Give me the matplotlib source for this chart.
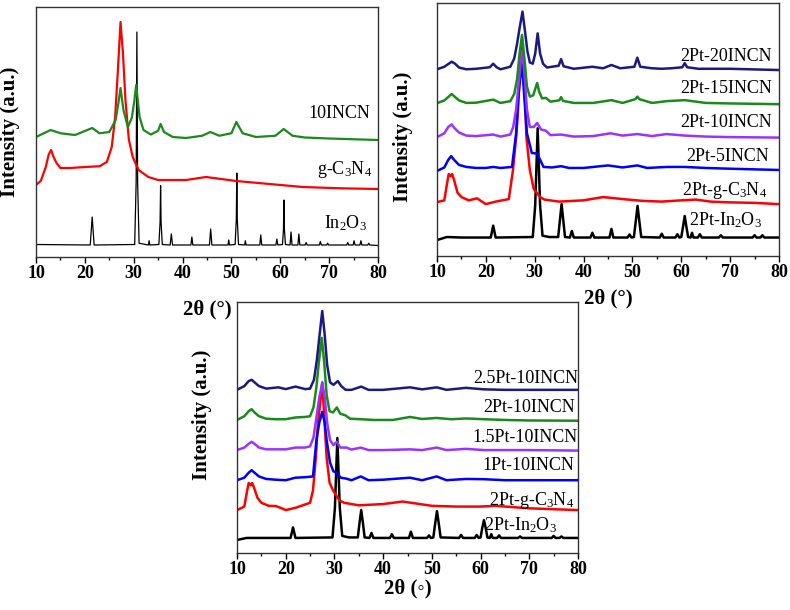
import matplotlib
matplotlib.use('Agg')
from matplotlib import pyplot as plt
from matplotlib.ticker import MultipleLocator

plt.rcParams['font.family'] = ['Liberation Serif', 'DejaVu Serif']
plt.rcParams['mathtext.fontset'] = 'custom'
plt.rcParams['mathtext.rm'] = 'Liberation Serif'
plt.rcParams['mathtext.it'] = 'Liberation Serif:italic'
plt.rcParams['mathtext.bf'] = 'Liberation Serif:bold'

# ---------- panel a : In2O3 / g-C3N4 / 10INCN ----------
a_in2o3_x = [10, 21.1, 21.5, 21.9, 30.2, 30.5, 30.65, 30.8, 31.1, 33.0, 33.15, 33.3,
             35.15, 35.4, 35.5, 35.6, 35.85, 37.45, 37.7, 37.95, 41.7, 41.9, 42.1,
             45.5, 45.75, 46.0, 49.3, 49.45, 49.6, 50.75, 51.0, 51.1, 51.2, 51.45,
             52.7, 52.85, 53.0, 55.8, 56.0, 56.2, 59.1, 59.3, 59.5, 60.45, 60.65,
             60.75, 60.85, 61.05, 62.0, 62.2, 62.4, 63.6, 63.8, 64.0, 65.1, 65.3,
             65.5, 68.0, 68.2, 68.4, 69.5, 69.7, 69.9, 73.6, 73.8, 74.0, 74.9, 75.1,
             75.3, 76.3, 76.5, 76.7, 77.9, 78.1, 78.3, 80]
a_in2o3_y = [5.0, 4.8, 16, 4.8, 5.0, 30, 90, 30, 5.5, 4.8, 6.5, 4.8,
             5.0, 14, 28.5, 14, 5.0, 4.8, 9.2, 4.8, 4.8, 8.0, 4.8,
             4.8, 11.2, 4.8, 4.8, 6.8, 4.8, 5.0, 15, 33.6, 15, 5.0,
             4.8, 6.5, 4.8, 4.8, 8.8, 4.8, 4.8, 7.2, 4.8, 5.0, 11,
             22.8, 11, 5.0, 4.8, 10, 4.8, 4.8, 9.2, 4.8, 4.8, 5.8,
             4.8, 4.8, 6.2, 4.8, 4.8, 5.5, 4.8, 4.8, 5.8, 4.8, 4.8, 6.5,
             4.8, 4.8, 6.5, 4.8, 4.8, 5.5, 4.8, 4.6]

a_gcn_x = [10, 11, 12, 12.6, 13.1, 13.6, 14.2, 15, 17, 20, 23, 24.5, 25.5, 26.2,
           26.8, 27.3, 27.8, 28.3, 29, 29.8, 31, 33, 35, 40.7, 44.8, 51, 57.8,
           64.6, 72, 80]
a_gcn_y = [28.8, 30.5, 36, 41, 42.8, 40, 37.6, 35.6, 35.6, 36, 36.3, 38, 44, 56,
           76, 94, 81.5, 63, 47, 40, 34.8, 32, 30.8, 30.8, 32, 30.4, 29.2,
           28, 27.5, 27.2]

a_incn_x = [10, 13, 15, 18, 21.5, 23, 25, 26.3, 26.9, 27.3, 27.9, 28.8, 29.6, 30.1,
            30.5, 31.2, 32, 33.5, 35, 35.5, 36.2, 38, 40.7, 44, 45.7, 47.5, 50, 51,
            52.3, 55, 59, 60.7, 62.5, 65, 70, 80]
a_incn_y = [48, 50.8, 49.5, 48.8, 51.6, 49.5, 50, 54.8, 62, 67.6, 58.8, 52, 55.6, 62,
            68.8, 56, 50.8, 49, 50.5, 53.2, 50, 48, 47.6, 48.5, 50, 48.5, 49.5, 54,
            49.5, 48, 48.5, 51.2, 48.5, 47.8, 47.4, 46.8]

a_labels = ['10INCN', 'g-C$_3$N$_4$', 'In$_2$O$_3$']
a_label_y = [57.6, 34.8, 13.6]
a_label_x = [78.4, 78.8, 77.7]

# ---------- panel b : 2Pt with different INCN ratios ----------
b_in2o3_x = [10, 12, 15, 20, 21.0, 21.5, 22.0, 29.6, 30.1, 30.6, 31.1, 31.6, 33,
             34.8, 35.15, 35.5, 35.85, 36.2, 37.2, 37.6, 38.0, 41.4, 41.8, 42.2,
             45.3, 45.7, 46.1, 49.0, 49.4, 49.8, 50.3, 50.7, 51.05, 51.4, 51.8,
             55.6, 56.0, 56.4, 58.8, 59.2, 59.6, 60.0, 60.35, 60.7, 61.05, 61.4,
             61.9, 62.2, 62.5, 63.4, 63.8, 64.2, 67.7, 68.1, 68.5, 74.6, 75.0, 75.4,
             76.2, 76.6, 77.0, 80]
b_in2o3_y = [6.3, 7.5, 7.3, 7.3, 7.3, 12, 7.3, 7.5, 20, 50.5, 20, 8, 7.5,
             7.5, 14, 20.5, 14, 7.5, 7.3, 9.9, 7.3, 7.3, 9.2, 7.3,
             7.3, 10.7, 7.3, 7.3, 8.5, 7.3, 7.5, 14, 19.8, 14, 7.5,
             7.3, 8.8, 7.3, 7.3, 8.6, 7.3, 7.5, 11.5, 15.8, 11.5, 7.5,
             7.3, 9.2, 7.3, 7.3, 8.6, 7.3, 7.3, 8.2, 7.3, 7.3, 8.2, 7.3,
             7.3, 8.2, 7.3, 7.3]

b_gcn_x = [10, 11.5, 12.0, 12.4, 12.8, 13.1, 13.5, 14.2, 15, 16.5, 18.2, 19.2, 20,
           22, 24.7, 25.55, 26.2, 26.55, 27.0, 27.4, 27.85, 28.3, 29.0, 29.8, 31.1,
           32, 35, 40, 44, 48, 52, 56, 60, 63, 66, 70, 75, 80]
b_gcn_y = [21.3, 22, 28, 32.4, 31.5, 32.4, 30, 25, 23.3, 22, 22.8, 21.5, 20.5,
           21.5, 22.5, 34, 47, 56.5, 75, 86, 72, 47, 34, 26.5, 23.3,
           22.3, 21.5, 22, 23.3, 22.5, 21.8, 21.5, 22, 22.3, 21.5, 21.2, 21, 20.5]

b_5_x = [10, 11.5, 12.3, 12.9, 13.5, 14.5, 16, 18, 20, 21.5, 23, 25.35, 26.2, 26.6,
         27.0, 27.4, 27.9, 28.4, 29.4, 30.5, 31.8, 33.5, 35.4, 37, 40, 45, 48, 51,
         53, 57, 60.7, 65, 70, 80]
b_5_y = [33.6, 35, 38, 39.5, 38, 36, 35.2, 34.8, 34.8, 35.2, 34.8, 35.2, 48.6, 61.7,
         70, 76, 62, 48.6, 40.7, 40.5, 35.2, 35, 35.5, 34.8, 34.8, 35.8, 35, 35.8,
         34.8, 35.2, 35.2, 34.8, 34.5, 34]

b_10_x = [10, 11.5, 12.3, 13.0, 13.6, 14.5, 16, 18, 21.5, 23, 25, 25.6, 26.2, 26.7,
          27.1, 27.45, 27.9, 28.4, 29.0, 29.8, 30.5, 31.3, 32.3, 33.2, 35.4, 38, 42,
          45.5, 48, 51, 54, 57, 60.7, 65, 70, 80]
b_10_y = [47, 48.5, 51, 52, 50.5, 48.8, 47.6, 47.4, 48, 47.2, 48, 51, 58, 68,
          76, 81, 72, 58, 51, 51, 52.6, 50, 49.5, 47.8, 48, 47.2, 47.4,
          48.5, 47.6, 48.2, 47.4, 48.2, 47.6, 47.2, 47, 46.8]

b_15_x = [10, 11.5, 12.4, 13, 13.6, 14.5, 16, 18, 21.5, 23, 25, 25.8, 26.4, 26.9,
          27.4, 27.9, 28.4, 29.0, 29.7, 30.1, 30.5, 30.9, 31.5, 32.3, 33.2, 35.0,
          35.4, 35.8, 38, 42, 45.7, 48, 50.6, 51, 51.4, 54, 57, 60.7, 65, 70, 80]
b_15_y = [60.4, 61.5, 63, 64, 63, 61.5, 60.5, 60.6, 61.8, 60.5, 61.2, 64, 70, 80,
          87.4, 78, 67, 63, 63.5, 66, 68.4, 65, 62.3, 62.5, 61, 61.5,
          62.8, 61.3, 60.5, 60.5, 61.6, 60.5, 62, 63, 62, 60.5, 61.2, 61.6, 60.5, 60.3, 60]

b_20_x = [10, 11.5, 12.4, 13.0, 13.7, 14.5, 16, 18, 20.8, 21.5, 22.2, 23, 25, 25.8,
          26.4, 26.9, 27.5, 28.0, 28.5, 29.0, 29.6, 30.1, 30.6, 31.1, 31.7, 32.5,
          34.9, 35.4, 35.9, 38, 41.8, 44, 45.7, 47.5, 50.4, 51.0, 51.6, 54, 56, 58,
          60.2, 60.7, 61.2, 63.5, 70, 80]
b_20_y = [73.8, 74.8, 76, 76.8, 76, 74.5, 73.8, 74, 74.6, 76, 74.6, 73.8, 74.8, 78,
          84, 90, 96.6, 89, 81, 76.5, 76, 80, 88, 80, 76, 74.5,
          75.2, 77.8, 75, 74, 74.8, 74.2, 75.5, 74.2, 74.8, 78.4, 74.8, 74.2, 74, 74.2,
          74.6, 76.2, 74.6, 74, 74, 73.5]

b_labels = ['2Pt-20INCN', '2Pt-15INCN', '2Pt-10INCN', '2Pt-5INCN',
            '2Pt-g-C$_3$N$_4$', '2Pt-In$_2$O$_3$']
b_label_y = [78.7, 66.4, 52.6, 39.5, 26.0, 14.2]
b_label_x = [78.6, 78.6, 78.6, 78.0, 77.5, 76.5]

# ---------- panel c : different Pt loadings on 10INCN ----------
c_in2o3_x = list(b_in2o3_x)
c_in2o3_y = [5.2, 6, 6, 6, 6, 10.2, 6, 6.2, 18, 45.8, 18, 6.8, 6.2,
             6.2, 12, 17.1, 12, 6.2, 6, 8, 6, 6, 7.5, 6,
             6, 8.5, 6, 6, 7, 6, 6.2, 12, 16.7, 12, 6.2,
             6, 7.2, 6, 6, 7.2, 6, 6.2, 10, 13.1, 10, 6.2,
             6, 7.5, 6, 6, 7, 6, 6, 6.6, 6, 6, 6.8, 6,
             6, 6.6, 6, 6]

c_gcn_x = [10, 11.5, 12.0, 12.4, 12.8, 13.1, 13.5, 14.2, 15, 16.5, 18, 19.2, 20, 22,
           25, 25.6, 26.2, 26.6, 27.1, 27.5, 27.9, 28.4, 29, 29.7, 31, 32, 35, 40,
           44, 50, 55, 60, 63, 70, 80]
c_gcn_y = [17.1, 18.5, 24, 27.9, 27, 27.9, 26, 22, 20, 18.8, 18.7, 17.8, 17.1, 18,
           20, 25, 38.4, 51.6, 60, 68, 55, 38, 28, 25, 21, 20, 19, 19.5,
           20.5, 18.8, 18.5, 18.5, 18.8, 17.8, 17.1]

c_1_x = [10, 11.5, 12.4, 13.0, 13.6, 14.5, 16, 18, 20, 22, 24, 25.6, 26.3, 26.9,
         27.5, 28.0, 28.4, 29.1, 29.8, 30.5, 31.3, 32.5, 33.5, 35.4, 37, 40, 45.5,
         48, 51, 53, 57, 60.7, 65, 70, 80]
c_1_y = [29, 30, 32, 33, 32, 30.5, 29.5, 29.2, 29, 30, 30.2, 30.5, 45, 52,
         56.2, 52, 45, 36, 32.5, 32, 30, 29.6, 29, 30.5, 29, 29.2, 30,
         29, 30.5, 29, 29.5, 29.4, 29, 29, 29]

c_15_x = [10, 11.5, 12.4, 13.0, 13.6, 14.5, 16, 18, 20, 22, 24, 25, 25.7, 26.3,
          26.9, 27.5, 28.0, 28.5, 29.1, 29.8, 30.5, 31.2, 32.5, 33.5, 35.4, 37, 40,
          45.5, 48, 51, 53, 57, 60.7, 65, 70, 80]
c_15_y = [41, 42, 43.5, 44.3, 43.5, 42, 41.3, 41.3, 41.3, 42, 42, 42.5, 46, 54,
          62, 67.7, 62, 52, 45, 43, 44.3, 42, 42, 41.2, 42, 41, 41,
          41.3, 41, 42, 41, 41.5, 41, 41, 41, 40.8]

c_2_x = [10, 11.5, 12.4, 13.0, 13.6, 14.5, 16, 18, 20, 22, 24, 25, 25.7, 26.3,
         26.8, 27.4, 27.9, 28.4, 29.0, 29.7, 30.5, 31.2, 32.3, 33.2, 35.4, 38, 42,
         45.5, 48, 51, 54, 57, 60.7, 65, 70, 80]
c_2_y = [53, 54.5, 56.5, 57.3, 56, 54.5, 53.5, 53.3, 53.3, 54, 54.2, 54.5, 58, 66,
         76, 85.7, 76, 63, 56.5, 56, 58, 55.5, 54.8, 53.5, 53.3, 53, 53,
         54.2, 53.4, 53.8, 53.3, 53.6, 53.3, 53, 52.8, 52.7]

c_25_x = [10, 11.5, 12.4, 13.0, 13.6, 14.5, 16, 18.5, 20, 22, 24, 25, 25.8, 26.4,
          26.9, 27.5, 28.0, 28.5, 29.1, 29.8, 30.7, 31.4, 32.3, 33.5, 35.5, 37, 40,
          45.5, 48, 51, 53, 57, 60.7, 65, 70, 80]
c_25_y = [65, 66.5, 68.5, 69, 68, 66.5, 65.5, 66, 65.3, 66.3, 65.3, 65.5, 69, 77,
          86, 96.4, 87, 75, 68, 67, 68.5, 66.5, 65, 65, 66.3, 65, 65,
          66, 65.2, 66, 65, 65.8, 65.2, 65, 65, 65]

c_labels = ['2.5Pt-10INCN', '2Pt-10INCN', '1.5Pt-10INCN', '1Pt-10INCN',
            '2Pt-g-C$_3$N$_4$', '2Pt-In$_2$O$_3$']
c_label_y = [69.7, 57.8, 46.2, 35.0, 21.0, 11.2]
c_label_x = [80.0, 79.3, 80.0, 79.3, 79.3, 75.7]

BLACK = 'black'
RED = '#ff0000'
BLUE = '#0000ff'
PURPLE = '#9933ff'
GREEN = '#1a8a1a'
NAVY = '#1a1a80'

fig = plt.figure(figsize=(7.9, 6.1), dpi=100)
ax1 = fig.add_axes([36/790, 353/610, 342/790, 250/610])
ax2 = fig.add_axes([437/790, 354/610, 342/790, 253/610])
ax3 = fig.add_axes([237/790, 57/610, 341/790, 251/610])


def style_axis(ax, xlab, ylab_xy, xlab_y):
    ax.set_xlim(10, 80)
    ax.set_ylim(0, 100)
    ax.set_yticks([])
    ax.xaxis.set_major_locator(MultipleLocator(10))
    ax.xaxis.set_minor_locator(MultipleLocator(5))
    ax.tick_params(axis='x', which='major', direction='out', length=4, width=1,
                   pad=2, labelsize=13)
    ax.tick_params(axis='x', which='minor', direction='out', length=2.5, width=1)
    for lab in ax.get_xticklabels():
        lab.set_fontweight('bold')
    for sp in ax.spines.values():
        sp.set_linewidth(1.0)
        sp.set_color('#333333')
    ax.set_xlabel(xlab, fontsize=15, fontweight='bold')
    ax.xaxis.set_label_coords(0.5, xlab_y)
    ax.set_ylabel('Intensity (a.u.)', fontsize=15, fontweight='bold')
    ax.yaxis.set_label_coords(*ylab_xy)


# panel a
ax1.plot(a_in2o3_x, a_in2o3_y, color=BLACK, lw=0.9)
ax1.plot(a_gcn_x, a_gcn_y, color=RED, lw=1.6)
ax1.plot(a_incn_x, a_incn_y, color=GREEN, lw=1.6)
for t, xx, yy in zip(a_labels, a_label_x, a_label_y):
    ax1.text(xx, yy, t, ha='right', va='center', fontsize=13)
style_axis(ax1, '2θ (°)', (-0.047, 0.5), -0.17)

# panel b
for xs, ys, c in [(b_in2o3_x, b_in2o3_y, BLACK), (b_gcn_x, b_gcn_y, RED),
                  (b_5_x, b_5_y, BLUE), (b_10_x, b_10_y, PURPLE),
                  (b_15_x, b_15_y, GREEN), (b_20_x, b_20_y, NAVY)]:
    ax2.plot(xs, ys, color=c, lw=1.8)
for t, xx, yy in zip(b_labels, b_label_x, b_label_y):
    ax2.text(xx, yy, t, ha='right', va='center', fontsize=13)
style_axis(ax2, '2θ (°)', (-0.07, 0.47), -0.13)

# panel c
for xs, ys, c in [(c_in2o3_x, c_in2o3_y, BLACK), (c_gcn_x, c_gcn_y, RED),
                  (c_1_x, c_1_y, BLUE), (c_15_x, c_15_y, PURPLE),
                  (c_2_x, c_2_y, GREEN), (c_25_x, c_25_y, NAVY)]:
    ax3.plot(xs, ys, color=c, lw=1.8)
for t, xx, yy in zip(c_labels, c_label_x, c_label_y):
    ax3.text(xx, yy, t, ha='right', va='center', fontsize=13)
style_axis(ax3, '2θ (◦)', (-0.073, 0.55), -0.1)

fig.savefig('out.png', dpi=100)
